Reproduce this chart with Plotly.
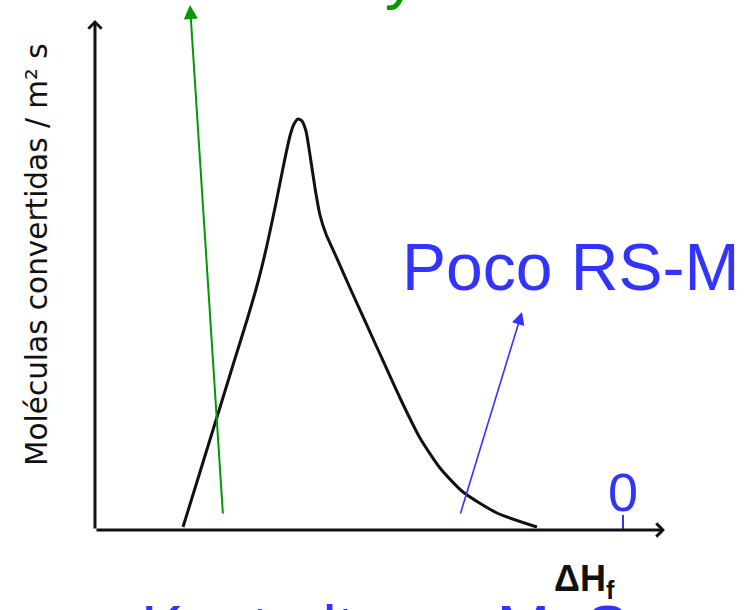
import plotly.graph_objects as go

# Volcano curve (x: ΔH_f arbitrary units, 0 at the "0" mark; y: arbitrary rate units)
curve_x = [-8.333, -8.011, -7.689, -7.386, -7.121, -6.913, -6.742, -6.572, -6.420, -6.307,
           -6.231, -6.155, -6.080, -6.004, -5.928, -5.833, -5.739, -5.625, -5.455, -5.170,
           -4.697, -4.223, -3.845, -3.466, -3.030, -2.386, -1.629]
curve_y = [0.06, 1.16, 2.26, 3.30, 4.20, 4.96, 5.70, 6.54, 7.34, 7.88,
           8.12, 8.22, 8.18, 7.98, 7.50, 6.84, 6.30, 5.92, 5.52, 4.84,
           3.74, 2.64, 1.84, 1.24, 0.76, 0.34, 0.06]

# Axis extents (origin, ends)
x_origin, y_origin = -10.0, 0.0
x_axis_end = 0.795
y_axis_end = 10.2

# Arrows: (tail_x, tail_y, head_x, head_y)
green_arrow = [-7.576, 0.3, -8.201, 10.5]
blue_arrow = [-3.087, 0.3, -1.913, 4.36]

# Zero tick
zero_tick_x = [0, 0]
zero_tick_y = [0, 0.3]

y_title = "Moléculas convertidas / m² s"
x_title = "ΔH<sub>f</sub>"
label_right = "Poco RS-M"
label_top = "Muy estable RS-M"
label_bottom = "Kcat alta en MoS<sub>2</sub>"
zero_label = "0"

BLUE = "#3333ff"
GREEN = "#009900"
BLACK = "#111111"
FONT = "Liberation Sans, Arial, sans-serif"

fig = go.Figure()
fig.add_trace(go.Scatter(x=curve_x, y=curve_y, mode="lines",
                         line=dict(color=BLACK, width=3, shape="spline", smoothing=0.6),
                         hoverinfo="skip", showlegend=False))
fig.add_trace(go.Scatter(x=zero_tick_x, y=zero_tick_y, mode="lines",
                         line=dict(color=BLUE, width=2), hoverinfo="skip", showlegend=False))

def arrow(tx, ty, hx, hy, color, width, head, size):
    fig.add_annotation(x=hx, y=hy, ax=tx, ay=ty, xref="x", yref="y", axref="x", ayref="y",
                       text="", showarrow=True, arrowhead=head, arrowsize=size,
                       arrowwidth=width, arrowcolor=color, standoff=0, startstandoff=0)

arrow(x_origin, y_origin, x_origin, y_axis_end, BLACK, 3, 4, 0.85)
arrow(x_origin, y_origin, x_axis_end, y_origin, BLACK, 3, 4, 0.85)
arrow(*green_arrow, GREEN, 2, 2, 1.4)
arrow(*blue_arrow, BLUE, 1.6, 2, 1.6)

fig.add_annotation(x=-0.985, y=5.26, xref="x", yref="y", text=label_right, showarrow=False,
                   font=dict(family=FONT, size=66, color=BLUE))
fig.add_annotation(x=0, y=0.76, xref="x", yref="y", text=zero_label, showarrow=False,
                   font=dict(family=FONT, size=54, color=BLUE))
fig.add_annotation(x=-0.72, y=-1.02, xref="x", yref="y", text="<b>" + x_title + "</b>",
                   showarrow=False, font=dict(family=FONT, size=36, color=BLACK))
fig.add_annotation(x=-6.288, y=1.0443, xref="x", yref="paper", xanchor="left", yanchor="middle",
                   text=label_top, showarrow=False,
                   font=dict(family=FONT, size=66, color=GREEN))
fig.add_annotation(x=-9.167, y=-0.0371, xref="x", yref="paper", xanchor="left", yanchor="middle",
                   text=label_bottom, showarrow=False,
                   font=dict(family=FONT, size=64, color=BLUE))
fig.add_annotation(x=-11.1, y=5.5, xref="x", yref="y", text=y_title, textangle=-90,
                   showarrow=False, font=dict(family="DejaVu Sans", size=29.5, color=BLACK))

fig.update_layout(width=745, height=610, margin=dict(l=0, r=0, t=0, b=0),
                  paper_bgcolor="white", plot_bgcolor="white",
                  xaxis=dict(range=[-11.799, 2.311], visible=False, fixedrange=True),
                  yaxis=dict(range=[-1.6, 10.6], visible=False, fixedrange=True))

fig.write_html("out.html", config={"displayModeBar": False},
               post_script="document.body.style.margin='0px';document.body.style.overflow='hidden';")
